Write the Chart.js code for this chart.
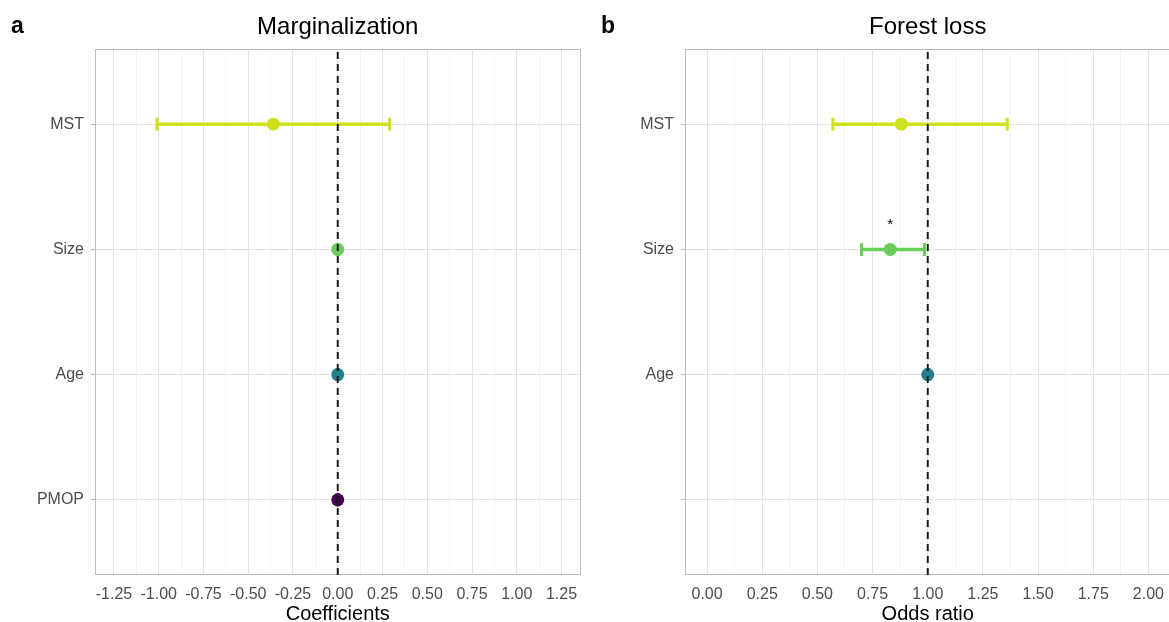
<!DOCTYPE html>
<html>
<head>
<meta charset="utf-8">
<title>Marginalization and forest loss</title>
<script src="https://cdn.jsdelivr.net/npm/chart.js@4.4.1/dist/chart.umd.min.js"></script>
<style>
  body { margin: 0; background: #fff; overflow: hidden; width: 1169px; height: 622px; position: relative; }
  canvas { position: absolute; top: 0; }
  #marg-chart { left: 0; }
  #forest-chart { left: 590px; }
</style>
</head>
<body>
<canvas id="marg-chart" width="590" height="622"></canvas>
<canvas id="forest-chart" width="590" height="622"></canvas>
<script>
// Predictors, top to bottom, and the row each one sits on (PMOP at the bottom)
const predictors = ['MST', 'Size', 'Age', 'PMOP'];
const predictorColors = ['#cfe11c', '#6bcd5a', '#21808c', '#440154'];
const rowPos = [4, 3, 2, 1];

// Marginalization model: coefficients and 95% intervals
const margEst = [-0.36, 0.0, 0.0, 0.0];
const margLow = [-1.01, -0.004, -0.003, -0.003];
const margHigh = [0.29, 0.004, 0.003, 0.003];
const margRowLabels = ['MST', 'Size', 'Age', 'PMOP'];
const margTicks = [-1.25, -1.0, -0.75, -0.5, -0.25, 0, 0.25, 0.5, 0.75, 1.0, 1.25];

// Forest loss model: odds ratios and 95% intervals (no PMOP term)
const forestEst = [0.88, 0.83, 1.0, null];
const forestLow = [0.57, 0.70, 0.995, null];
const forestHigh = [1.36, 0.985, 1.005, null];
const forestSig = ['', '*', '', ''];
const forestRowLabels = ['MST', 'Size', 'Age', ''];
const forestTicks = [0, 0.25, 0.5, 0.75, 1.0, 1.25, 1.5, 1.75, 2.0];

Chart.defaults.font.family = '"Liberation Sans", Arial, sans-serif';

const MAJOR_GRID = '#e4e4e4';
const MINOR_GRID = '#f3f3f3';
const FRAME = '#bdbdbd';

// grey frame round the plotting area
const panelFrame = {
  id: 'panelFrame',
  beforeDatasetsDraw(chart) {
    const {ctx, chartArea: a} = chart;
    ctx.save();
    ctx.strokeStyle = FRAME;
    ctx.lineWidth = 1;
    ctx.strokeRect(Math.round(a.left) + 0.5, Math.round(a.top) + 0.5,
      Math.round(a.right - a.left) - 1, Math.round(a.bottom - a.top) - 1);
    ctx.restore();
  }
};

// bold panel letter in the top left corner
const panelLetter = {
  id: 'panelLetter',
  afterDraw(chart, args, opts) {
    const ctx = chart.ctx;
    ctx.save();
    ctx.font = 'bold 23px "Liberation Sans", Arial, sans-serif';
    ctx.fillStyle = '#000';
    ctx.textBaseline = 'alphabetic';
    ctx.fillText(opts.text || '', 11, 33);
    ctx.restore();
  }
};

// significance stars above the estimates
const sigStars = {
  id: 'sigStars',
  afterDatasetsDraw(chart, args, opts) {
    if (!opts.marks) return;
    const {ctx, scales} = chart;
    ctx.save();
    ctx.font = '15px "Liberation Sans", Arial, sans-serif';
    ctx.fillStyle = '#000';
    ctx.textAlign = 'center';
    ctx.textBaseline = 'alphabetic';
    opts.marks.forEach((m, i) => {
      if (!m || opts.est[i] === null) return;
      const x = scales.x.getPixelForValue(opts.est[i]);
      const y = scales.y.getPixelForValue(rowPos[i]);
      ctx.fillText(m, x, y - 20);
    });
    ctx.restore();
  }
};

function drawForest(canvasId, p) {
  const shown = predictors.map((_, i) => i).filter(i => p.est[i] !== null);

  // major ticks carry labels, minor ones sit half way between
  const minor = p.ticks.slice(1).map((t, i) => (t + p.ticks[i]) / 2);
  const gridValues = p.ticks.concat(minor).sort((a, b) => a - b);
  const isMajor = v => p.ticks.includes(v);

  const errorBars = shown.map(i => ({
    type: 'line',
    data: [{x: p.low[i], y: rowPos[i]}, {x: p.high[i], y: rowPos[i]}],
    borderColor: predictorColors[i],
    borderWidth: 3.5,
    pointStyle: 'line',
    pointRotation: 90,
    pointRadius: 6.5,
    pointBorderWidth: 3,
    pointBorderColor: predictorColors[i],
    order: 2
  }));

  const estimates = {
    type: 'scatter',
    data: shown.map(i => ({x: p.est[i], y: rowPos[i]})),
    pointRadius: 6.5,
    pointBorderWidth: 0,
    pointBackgroundColor: shown.map(i => predictorColors[i]),
    order: 1
  };

  const refLine = {
    type: 'line',
    data: [{x: p.ref, y: 0.4}, {x: p.ref, y: 4.6}],
    borderColor: '#1a1a1a',
    borderWidth: 2,
    borderDash: [7, 5],
    pointRadius: 0,
    order: 0
  };

  return new Chart(document.getElementById(canvasId), {
    type: 'scatter',
    data: {datasets: errorBars.concat([estimates, refLine])},
    plugins: [panelFrame, panelLetter, sigStars],
    options: {
      responsive: false,
      animation: false,
      events: [],
      layout: {padding: {left: 0, right: p.padRight, top: 0, bottom: 0}},
      plugins: {
        legend: {display: false},
        tooltip: {enabled: false},
        title: {
          display: true,
          text: p.title,
          color: '#000',
          fullSize: false,
          font: {size: 24, weight: 'normal'},
          padding: {top: 12.5, bottom: 7.7}
        },
        panelLetter: {text: p.letter},
        sigStars: {marks: p.sig, est: p.est}
      },
      scales: {
        x: {
          type: 'linear',
          min: p.xMin,
          max: p.xMax,
          afterBuildTicks: axis => { axis.ticks = gridValues.map(v => ({value: v})); },
          afterFit: axis => {
            axis.height = 47;
            axis.paddingLeft = 0;
            axis.paddingRight = 0;
          },
          border: {display: false},
          grid: {
            color: ctx => isMajor(ctx.tick.value) ? MAJOR_GRID : MINOR_GRID,
            lineWidth: 1,
            tickLength: 4,
            tickColor: 'rgba(0,0,0,0)'
          },
          ticks: {
            autoSkip: false,
            minRotation: 0,
            maxRotation: 0,
            padding: 6,
            color: '#4d4d4d',
            font: {size: 16},
            callback: v => isMajor(v) ? v.toFixed(2) : ''
          },
          title: {
            display: true,
            text: p.xTitle,
            color: '#000',
            font: {size: 20, lineHeight: 0.7},
            padding: {top: 0, bottom: 0.5}
          }
        },
        y: {
          type: 'linear',
          min: 0.4,
          max: 4.6,
          afterBuildTicks: axis => { axis.ticks = rowPos.slice().sort().map(v => ({value: v})); },
          afterFit: axis => { axis.width = 95; },
          border: {display: false},
          grid: {
            color: MAJOR_GRID,
            lineWidth: 1,
            tickLength: 4,
            tickColor: FRAME
          },
          ticks: {
            padding: 7,
            color: '#4d4d4d',
            font: {size: 16},
            callback: v => p.rowLabels[rowPos.indexOf(v)]
          }
        }
      }
    }
  });
}

drawForest('marg-chart', {
  title: 'Marginalization', letter: 'a', xTitle: 'Coefficients',
  est: margEst, low: margLow, high: margHigh, sig: null,
  rowLabels: margRowLabels, ticks: margTicks,
  xMin: -1.356, xMax: 1.356, ref: 0, padRight: 7
});

drawForest('forest-chart', {
  title: 'Forest loss', letter: 'b', xTitle: 'Odds ratio',
  est: forestEst, low: forestLow, high: forestHigh, sig: forestSig,
  rowLabels: forestRowLabels, ticks: forestTicks,
  xMin: -0.1, xMax: 2.1, ref: 1, padRight: 3
});
</script>
</body>
</html>
